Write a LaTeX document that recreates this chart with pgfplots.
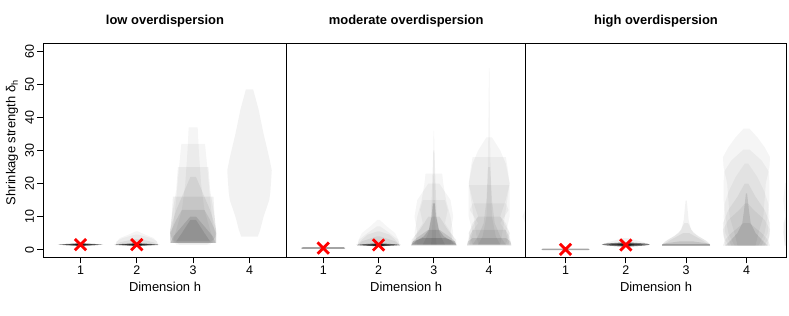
\documentclass[border=0pt]{standalone}
\usepackage{pgfplots}
\pgfplotsset{compat=1.18}
\usepackage{fontspec}
\setmainfont{Liberation Sans}
\newcommand\vio[3]{%
  \gdef\vioR{}\gdef\vioL{}%
  \foreach \yy/\ww in {#3}{%
    \pgfmathsetmacro\xr{#1+\ww}%
    \pgfmathsetmacro\xl{#1-\ww}%
    \xdef\vioR{\vioR(\xr,\yy)}%
    \xdef\vioL{(\xl,\yy)\vioL}%
  }%
  \edef\viotemp{\noexpand\addplot[draw=none,fill=black,fill opacity=#2] coordinates {\vioR\vioL};}%
  \viotemp
}
\begin{document}
\begin{tikzpicture}
\useasboundingbox (0,0) rectangle (789bp,316bp);
\pgfplotsset{panel/.style={
  scale only axis, height=214bp,
  anchor=south west,
  ymin=-2.4, ymax=62.4, xmin=0.34, xmax=4.66,
  xtick={1,2,3,4},
  axis line style={line width=1.2bp},
  tick style={black, line width=0.8bp},
  tick align=outside, major tick length=6bp,
  xtick pos=bottom,
  /pgf/number format/assume math mode=true,
  ticklabel style={font=\fontsize{12.5}{14}\selectfont},
  xticklabel style={inner sep=2bp},
}}
% ---------------- panel 1
\begin{axis}[panel, at={(43.3bp,58.5bp)}, width=243.4bp,
  ytick={0,10,20,30,40,50,60}, ytick pos=left,
  yticklabel style={rotate=90, anchor=south, inner sep=3bp}]
\vio{2}{0.04}{1.3/0.38, 2.5/0.35, 3.5/0.3, 4.5/0.15, 5.5/0.02}
\vio{2}{0.04}{1.3/0.38, 2.5/0.36, 3.5/0.25, 4.5/0.03}
\vio{2}{0.06}{1.3/0.38, 2.2/0.3, 3.2/0.05}
\vio{1}{0.5}{1.1/0.02, 1.3/0.25, 1.5/0.4, 1.7/0.25, 1.9/0.02}
\vio{1}{0.5}{1.2/0.05, 1.5/0.3, 1.8/0.05}
\vio{1}{0.5}{1.3/0.05, 1.5/0.15, 1.7/0.05}
\vio{2}{0.5}{1.1/0.02, 1.3/0.25, 1.5/0.4, 1.7/0.25, 1.9/0.02}
\vio{2}{0.5}{1.2/0.05, 1.5/0.3, 1.8/0.05}
\vio{2}{0.5}{1.3/0.05, 1.5/0.15, 1.7/0.05}
\vio{3}{0.04}{1.5/0.25, 3/0.35, 6/0.3, 12/0.2, 20/0.14, 30/0.1, 37/0.08}
\vio{3}{0.04}{1.5/0.3, 4/0.4, 8/0.35, 15/0.3, 25/0.25, 32/0.21}
\vio{3}{0.05}{2/0.35, 5/0.41, 10/0.38, 18/0.3, 25/0.27}
\vio{3}{0.06}{2/0.4, 6/0.41, 12/0.3, 18/0.15, 22/0.05}
\vio{3}{0.06}{2/0.4, 5/0.41, 10/0.38, 16/0.36}
\vio{3}{0.08}{2/0.41, 5/0.41, 9/0.3, 12/0.2}
\vio{3}{0.1}{2/0.4, 4/0.35, 7/0.2, 10/0.05}
\vio{3}{0.1}{2.5/0.3, 5/0.2, 9/0.05}
\vio{4}{0.05}{3.9/0.147, 6/0.19, 10/0.25, 12.5/0.3, 15/0.35, 17.5/0.37, 20/0.38, 24/0.395, 27/0.36, 30/0.32, 35/0.25, 40/0.19, 42.5/0.16, 45/0.12, 48.5/0.065}
\addplot[only marks, mark=x, mark size=8bp, red, line width=2.8bp] coordinates {(1,1.5) (2,1.5)};
\end{axis}
% ---------------- panel 2
\begin{axis}[panel, at={(286.7bp,58.5bp)}, width=239bp, ytick=\empty]
\vio{1}{0.55}{0.25/0.37, 0.45/0.4, 0.65/0.37}
\vio{2}{0.035}{1.2/0.38, 3/0.36, 5/0.3, 7/0.15, 9/0.02}
\vio{2}{0.04}{1.2/0.39, 3/0.35, 5/0.2, 7/0.03}
\vio{2}{0.05}{1.2/0.39, 3/0.3, 4.5/0.2, 5.5/0.02}
\vio{2}{0.06}{1.2/0.39, 2.5/0.3, 4/0.03}
\vio{2}{0.5}{1.0/0.02, 1.2/0.25, 1.4/0.4, 1.6/0.3, 1.9/0.02}
\vio{2}{0.5}{1.1/0.05, 1.4/0.3, 1.7/0.05}
\vio{2}{0.5}{1.2/0.05, 1.4/0.15, 1.6/0.05}
\vio{3}{0.15}{1.5/0.4, 2.5/0.33, 4/0.18, 6/0.09, 10/0.04, 14/0.02}
\vio{3}{0.04}{1.5/0.05, 10/0.02, 20/0.012, 36/0.006}
\vio{3}{0.04}{1.5/0.3, 5/0.35, 10/0.3, 15/0.22, 20/0.17, 23/0.15}
\vio{3}{0.04}{1.5/0.35, 5/0.3, 10/0.35, 15/0.3, 20/0.1}
\vio{3}{0.04}{1.5/0.4, 4/0.35, 8/0.2, 12/0.25, 15/0.2}
\vio{3}{0.06}{1.5/0.41, 3/0.4, 6/0.25, 10/0.1}
\vio{3}{0.1}{1.5/0.41, 3/0.35, 6/0.1}
\vio{3}{0.06}{1.5/0.2, 5/0.1, 10/0.05, 20/0.03, 30/0.01}
\vio{3}{0.15}{1.2/0.41, 2.5/0.38, 3.5/0.2}
\vio{4}{0.04}{1.5/0.2, 4/0.12, 10/0.05, 20/0.03, 35/0.015, 55/0.005}
\vio{4}{0.04}{1.5/0.2, 6/0.25, 12/0.3, 20/0.37, 26/0.3, 30/0.2, 34/0.05}
\vio{4}{0.04}{1.5/0.3, 5/0.37, 10/0.2, 15/0.3, 20/0.37, 25/0.33, 28/0.3}
\vio{4}{0.04}{1.5/0.37, 5/0.3, 10/0.37, 15/0.37, 19.5/0.37}
\vio{4}{0.04}{1.5/0.4, 4/0.37, 8/0.2, 12/0.35, 14/0.3}
\vio{4}{0.05}{1.5/0.35, 5/0.37, 8/0.3, 10/0.2}
\vio{4}{0.06}{1.5/0.4, 3/0.37, 6/0.3}
\vio{4}{0.06}{1.5/0.3, 4/0.2, 8/0.1, 15/0.05, 25/0.02}
\vio{4}{0.1}{1.2/0.4, 2.5/0.38, 3.5/0.3}
\vio{5}{0.04}{1.5/0.2, 6/0.3, 10/0.4, 14/0.3, 18/0.1}
\addplot[only marks, mark=x, mark size=8bp, red, line width=2.8bp] coordinates {(1,0.45) (2,1.4)};
\end{axis}
% ---------------- panel 3
\begin{axis}[panel, at={(525.7bp,58.5bp)}, width=260.6bp, ytick=\empty]
\vio{1}{0.35}{-0.15/0.38, 0.05/0.4, 0.25/0.38}
\vio{2}{0.05}{1.2/0.38, 2.2/0.3, 3.5/0.03}
\vio{2}{0.5}{0.9/0.05, 1.2/0.3, 1.5/0.4, 1.8/0.35, 2.1/0.1}
\vio{2}{0.5}{1.1/0.05, 1.5/0.3, 1.9/0.05}
\vio{2}{0.5}{1.25/0.05, 1.5/0.15, 1.75/0.05}
\vio{3}{0.05}{1.5/0.4, 2.5/0.35, 4/0.2, 6/0.08, 9/0.04, 14.8/0.01}
\vio{3}{0.05}{1.5/0.4, 3/0.3, 5/0.12, 8/0.03}
\vio{3}{0.06}{1.5/0.38, 3/0.25, 5/0.05}
\vio{3}{0.1}{1.2/0.4, 1.8/0.38, 2.5/0.1}
\vio{3}{0.25}{1.2/0.4, 1.6/0.4}
\vio{4}{0.04}{1.2/0.15, 5/0.2, 10/0.28, 15/0.3, 20/0.32, 25/0.38, 28/0.39, 31/0.3, 34/0.18, 36.6/0.05}
\vio{4}{0.04}{1.2/0.2, 5/0.3, 10/0.35, 15/0.38, 20/0.38, 23.6/0.37, 27/0.25, 30.3/0.05}
\vio{4}{0.04}{1.2/0.25, 5/0.35, 10/0.38, 14/0.36, 17.4/0.3, 22/0.18, 26/0.03}
\vio{4}{0.05}{1.2/0.3, 4/0.38, 8/0.39, 12/0.3, 16/0.15, 20/0.03}
\vio{4}{0.05}{1.2/0.35, 3/0.37, 6/0.39, 9/0.3, 12/0.12, 14/0.02}
\vio{4}{0.1}{1.2/0.35, 3/0.25, 5/0.15, 8/0.07, 12/0.04, 17/0.01}
\vio{4}{0.06}{1.2/0.39, 3/0.35, 5/0.25, 8/0.05}
\vio{5}{0.04}{1.2/0.36, 5/0.39, 10/0.36, 15/0.39, 20/0.36, 23/0.2}
\vio{5}{0.04}{1.2/0.37, 4/0.38, 8/0.39, 12/0.3}
\addplot[only marks, mark=x, mark size=8bp, red, line width=2.8bp] coordinates {(1,0.05) (2,1.4)};
\end{axis}
% ---------------- texts
\begin{scope}[every node/.style={font=\fontsize{13}{15}\selectfont, inner sep=0pt}]
\node[anchor=base, font=\bfseries\fontsize{13}{15}\selectfont] at (165bp,291.3bp) {low overdispersion};
\node[anchor=base, font=\bfseries\fontsize{13}{15}\selectfont] at (406.2bp,291.3bp) {moderate overdispersion};
\node[anchor=base, font=\bfseries\fontsize{13}{15}\selectfont] at (656bp,291.3bp) {high overdispersion};
\node[anchor=base] at (165bp,24.3bp) {Dimension h};
\node[anchor=base] at (406.2bp,24.3bp) {Dimension h};
\node[anchor=base] at (656bp,24.3bp) {Dimension h};
\node[anchor=base, rotate=90] at (15.4bp,173.5bp) {Shrinkage strength δ\textsubscript{h}};
\end{scope}
\end{tikzpicture}
\end{document}
